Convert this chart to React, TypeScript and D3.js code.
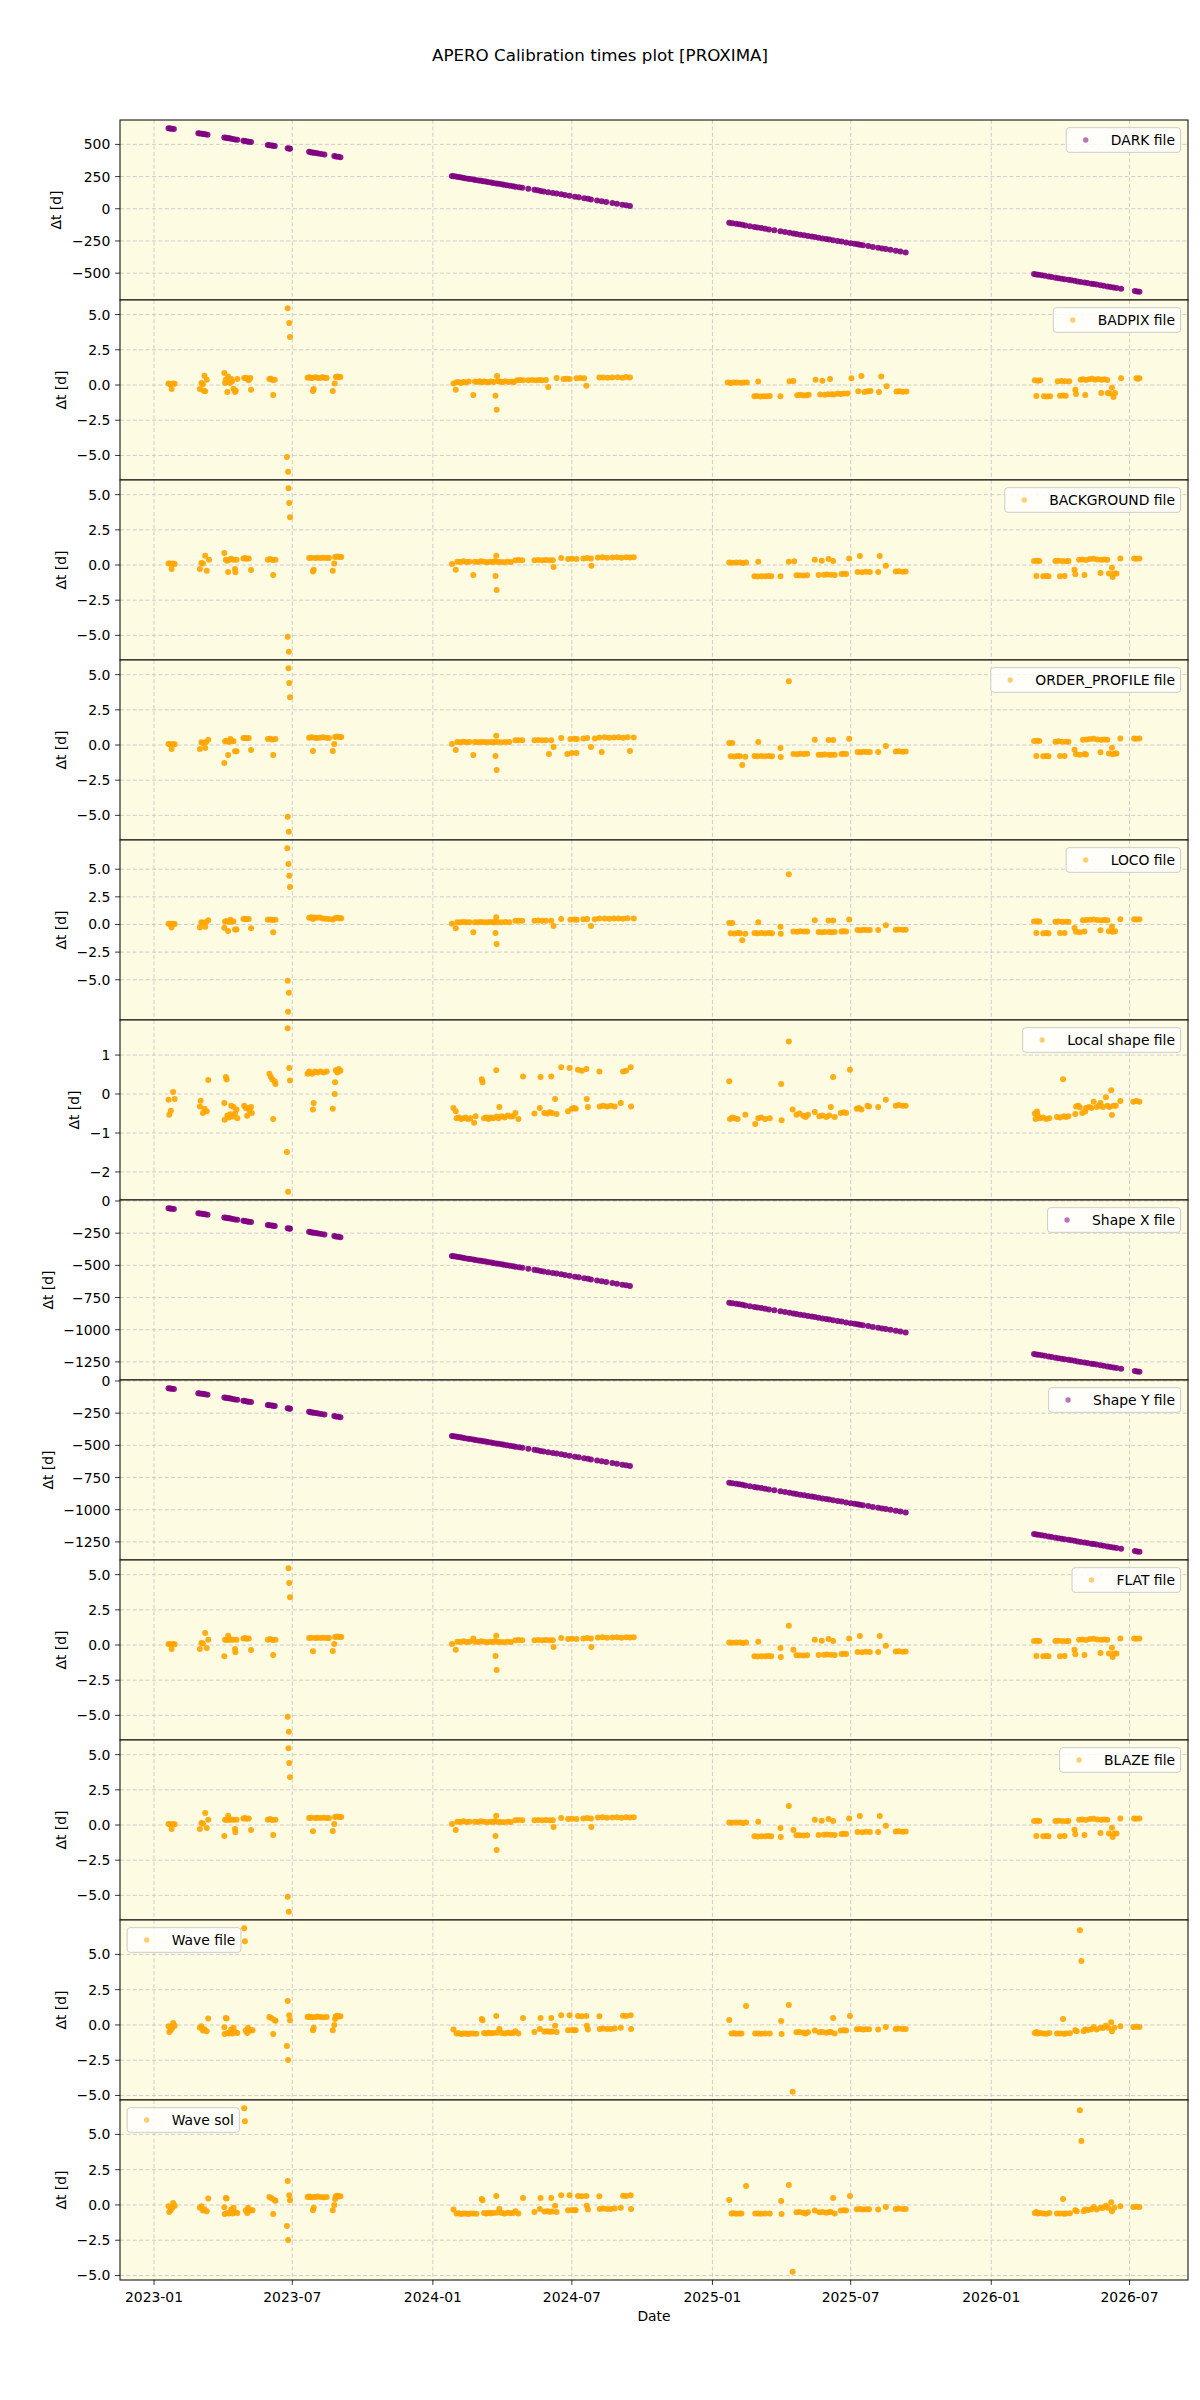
import React, { useEffect, useRef } from "react";
import * as d3 from "d3";

type Pt = [number, number]; // [days since 2023-01-01, delta t in days]

const EPOCH_MS = Date.UTC(2023, 0, 1);

const xTickDates = ["2023-01-01", "2023-07-01", "2024-01-01", "2024-07-01", "2025-01-01", "2025-07-01", "2026-01-01", "2026-07-01"];
const xTickLabels = ["2023-01", "2023-07", "2024-01", "2024-07", "2025-01", "2025-07", "2026-01", "2026-07"];

const darkTicks = [-500, -250, 0, 250, 500];
const fileTicks = [-5, -2.5, 0, 2.5, 5];
const locoTicks = [-5, -2.5, 0, 2.5, 5];
const localTicks = [-2, -1, 0, 1];
const shapeTicks = [-1250, -1000, -750, -500, -250, 0];
const waveTicks = [-5, -2.5, 0, 2.5, 5];

const darkPts: Pt[] = [
  [19,626],[21,624],[23,622],[26,619],[58,587],[60,585],[63,582],[65,580],[67,578],[70,575],[92,553],[94,551],[96,549],[98,547],[100,545],[103,542],[106,539],[109,536],[117,528],[119,526],[122,523],[124,521],[127,518],[149,496],[151,494],[154,491],[156,489],[158,487],[175,470],[177,468],[178,467],[203,442],[205,440],[207,438],[209,436],[212,433],[215,430],[219,426],[223,422],[236,409],[238,407],[241,404],[244,401],
  [390,255],[392,253],[395,250],[398,247],[401,244],[404,241],[407,238],[411,234],[414,231],[418,227],[421,224],[425,220],[428,217],[431,214],[434,211],[437,208],[441,204],[444,201],[448,197],[451,194],[455,190],[458,187],[462,183],[466,179],[470,175],[473,172],[478,167],[482,163],[490,155],[498,147],[502,143],[506,139],[510,135],[516,129],[522,123],[527,118],[533,112],[538,107],[544,101],[551,94],[556,89],[563,82],[568,77],[572,73],[580,65],[586,59],[592,53],[600,45],[606,39],[613,32],[618,27],[623,22],
  [753,-108],[757,-112],[762,-117],[766,-121],[770,-125],[774,-129],[780,-135],[786,-141],[790,-145],[795,-150],[800,-155],[805,-160],[812,-167],[820,-175],[826,-181],[832,-187],[837,-192],[841,-196],[846,-201],[851,-206],[856,-211],[861,-216],[865,-220],[870,-225],[875,-230],[880,-235],[884,-239],[889,-244],[895,-250],[900,-255],[906,-261],[912,-267],[917,-272],[921,-276],[924,-279],[928,-283],[935,-290],[941,-296],[948,-303],[953,-308],[958,-313],[964,-319],[971,-326],[977,-332],[984,-339],
  [1152,-507],[1155,-510],[1158,-513],[1162,-517],[1166,-521],[1171,-526],[1175,-530],[1180,-535],[1184,-539],[1188,-543],[1192,-547],[1197,-552],[1201,-556],[1205,-560],[1209,-564],[1213,-568],[1218,-573],[1222,-577],[1227,-582],[1230,-585],[1234,-589],[1239,-594],[1243,-598],[1248,-603],[1252,-607],[1256,-611],[1260,-615],[1266,-621],[1284,-639],[1287,-642],[1290,-645]
];

const badpixPts: Pt[] = [
  [19,0.1],[21,0.05],[23,-0.28],[25,0.1],[27,0.08],[60,-0.28],[62,0.14],[64,0.05],[66,0.66],[65,-0.4],[67,-0.45],[69,0.38],
  [92,0.85],[93,0.15],[94,0.38],[96,-0.5],[97,0.6],[99,0.14],[101,0.42],[102,0.25],[104,-0.26],[106,-0.5],[107,-0.4],[109,0.42],[118,0.5],[120,0.52],[122,0.45],[124,0.33],[126,0.5],[127,-0.33],
  [151,0.42],[153,0.45],[155,0.35],[156,-0.71],[158,0.38],[174,-5.1],[175,5.45],[175.5,-6.16],[177,4.39],[178,3.4],
  [201,0.52],[203,0.55],[205,0.52],[207,0.5],[208,-0.42],[209,-0.28],[211,0.55],[214,0.52],[217,0.5],[220,0.55],[223,0.52],[226,0.5],[234,-0.42],[236.5,0.1],[238,0.57],[240,0.6],[242,0.55],[244,0.57],
  [392,0.1],[395,-0.33],[396,0.19],[399,0.2],[402,0.15],[405,0.22],[408,0.18],[412,0.25],[418,-0.71],[420,0.24],[423,0.22],[426,0.26],[429,0.2],[432,0.24],[435,0.22],[438,0.2],[441,0.25],[445,0.22],[447,-0.76],[448.6,-1.75],[449,0.64],[450,0.28],[453,0.24],[456,0.2],[460,0.26],[464,0.22],[468,0.24],[471,0.2],[475,0.33],[479,0.36],[483,0.33],[490,0.33],[495,0.36],[500,0.33],[504,0.36],[508,0.33],[513,0.35],[516,-0.14],[527,0.5],[536,0.42],[540,0.45],[544,0.42],[553,0.47],[558,0.5],[563,0.47],[566,-0.05],[583,0.54],[588,0.54],[594,0.52],[600,0.54],[607,0.55],[613,0.52],[618,0.56],[623,0.54],
  [751,0.17],[755,0.15],[759,0.18],[763,0.17],[768,0.16],[772,0.18],[776,0.17],[786,-0.8],[789,-0.78],[791,0.24],[794,-0.82],[798,-0.8],[802,-0.8],[806,-0.78],[820,-0.8],[832,0.26],[837,0.28],[842,-0.73],[846,-0.7],[850,-0.75],[854,-0.72],[857,-0.7],[866,0.38],[872,-0.68],[875,0.31],[878,-0.7],[882,-0.66],[885,0.42],[887,-0.65],[890,-0.68],[895,-0.61],[899,-0.63],[903,-0.6],[908,-0.61],[913,0.47],[922,-0.45],[926,0.64],[930,-0.5],[934,-0.45],[938,-0.42],[949,-0.5],[952,0.61],[959,-0.09],[972,-0.47],[976,-0.45],[980,-0.48],[985,-0.47],
  [1153,0.33],[1155,-0.78],[1157,0.3],[1160,0.33],[1165,-0.8],[1169,-0.82],[1173,-0.8],[1183,0.26],[1186,-0.76],[1188,0.28],[1190,-0.75],[1193,0.26],[1193.5,-0.76],[1198,0.27],[1206,-0.33],[1207,-0.64],[1213,0.38],[1216,0.4],[1219,-0.71],[1220,0.36],[1224,0.4],[1228,0.45],[1232,0.38],[1236,0.42],[1240,-0.57],[1240.5,0.38],[1244,0.4],[1248,0.36],[1248.5,-0.57],[1251,-0.6],[1254,-0.19],[1256,-0.85],[1258,-0.57],[1266,0.47],[1286,0.47],[1288,0.45],[1290,0.47]
];

const backgroundPts: Pt[] = [
  [19,0.1],[21,0.1],[23,-0.28],[25,0.1],[27,0.08],[60,-0.28],[62,0.14],[64,0.1],[67,0.66],[69,-0.4],[72,0.38],[92,0.85],[94,0.38],[96,0.3],[97,-0.5],[99,0.4],[101,0.45],[104,0.38],[106,-0.28],[106.5,-0.52],[108,0.38],[117,0.47],[119,0.5],[121,0.45],[124,0.47],[127,-0.35],[149,0.38],[152,0.42],[155,0.36],[156,-0.71],[159,0.38],[175,-5.1],[176,5.46],[176.5,-6.17],[177,4.4],[178,3.4],[203,0.5],[206,0.52],[208,-0.47],[209,-0.33],[211,0.5],[214,0.52],[218,0.5],[222,0.52],[226,0.5],[229,0.5],[234,-0.4],[236,0.1],[237,0.57],[240,0.6],[243,0.57],[245,0.57],
  [390,0.07],[395,-0.33],[397,0.24],[401,0.22],[405,0.26],[409,0.22],[413,0.24],[418,-0.71],[420,0.24],[424,0.22],[428,0.26],[432,0.24],[436,0.2],[440,0.24],[444,0.22],[446,0.26],[447,-0.78],[448,0.66],[448.5,-1.77],[450,0.21],[454,0.22],[458,0.2],[463,0.24],[467,0.21],[473,0.33],[477,0.35],[482,0.33],[498,0.33],[503,0.35],[508,0.33],[513,0.36],[518,0.33],[522,0.33],[523,-0.14],[533,0.5],[542,0.43],[547,0.45],[553,0.43],[562,0.47],[567,0.5],[572,0.47],[572.5,-0.05],[581,0.54],[587,0.55],[593,0.52],[600,0.54],[606,0.55],[612,0.52],[618,0.56],[623,0.54],[628,0.55],
  [753,0.17],[757,0.16],[762,0.18],[767,0.17],[771,0.15],[775,0.17],[786,-0.8],[790,-0.82],[791,0.24],[795,-0.8],[800,-0.8],[804,-0.78],[808,-0.8],[820,-0.8],[831,0.24],[838,0.26],[841,-0.73],[845,-0.72],[850,-0.75],[855,-0.73],[865,0.38],[870,-0.71],[874,0.31],[877,-0.7],[881,-0.68],[883,0.43],[886,-0.7],[889,0.28],[891,-0.71],[900,-0.64],[903,-0.62],[906,-0.64],[910,0.47],[921,-0.5],[924,0.64],[927,-0.52],[932,-0.48],[937,-0.5],[948,-0.5],[950,0.64],[958,-0.05],[971,-0.47],[975,-0.45],[980,-0.48],[984,-0.47],
  [1152,0.28],[1155,-0.78],[1156,0.3],[1159,0.28],[1164,-0.8],[1168,-0.78],[1171,-0.8],[1180,0.28],[1184,0.3],[1186,-0.8],[1189,0.28],[1192,-0.78],[1194,0.26],[1197,0.28],[1205,-0.33],[1206,-0.66],[1211,0.38],[1215,0.4],[1218,-0.71],[1220,0.36],[1225,0.42],[1230,0.45],[1235,0.4],[1239,-0.57],[1240,0.38],[1244,0.4],[1248,0.38],[1250,-0.61],[1254,-0.19],[1255,-0.85],[1257,-0.61],[1260,-0.6],[1265,0.47],[1283,0.47],[1286,0.45],[1290,0.47]
];

const orderProfilePts: Pt[] = [
  [19,0.07],[21,0.05],[23,-0.28],[25,0.07],[27,0.05],[60,-0.28],[62,0.19],[64,0.15],[67,-0.21],[68,0.2],[71,0.38],[92,-1.28],[93,0.26],[95,0.3],[97,-0.71],[98,0.22],[100,0.43],[102,0.28],[104,0.26],[106,-0.45],[108,-0.45],[117,0.5],[119,0.5],[121,0.48],[124,0.5],[127,-0.35],[149,0.43],[152,0.45],[155,0.4],[156,-0.71],[159,0.43],[175,-5.1],[176,5.46],[176.5,-6.17],[177,4.4],[178,3.4],[203,0.52],[206,0.55],[208,-0.43],[210,0.52],[213,0.5],[217,0.52],[221,0.55],[225,0.52],[229,0.5],[234,-0.43],[236,0.07],[237,0.57],[240,0.6],[243,0.57],[245,0.57],
  [390,0.07],[395,-0.35],[397,0.21],[401,0.2],[405,0.23],[409,0.2],[413,0.21],[418,-0.71],[420,0.21],[424,0.2],[428,0.22],[432,0.21],[436,0.2],[440,0.22],[444,0.2],[446,0.21],[447,-0.78],[448,0.66],[448.5,-1.77],[450,0.21],[455,0.2],[460,0.22],[465,0.21],[473,0.33],[477,0.33],[482,0.33],[498,0.33],[503,0.35],[508,0.33],[513,0.33],[517,-0.64],[520,0.33],[523,-0.14],[533,0.5],[541,-0.64],[545,0.43],[547,-0.57],[550,0.45],[553,-0.57],[553.5,0.43],[562,0.47],[567,0.5],[572,-0.14],[577,0.47],[583,0.54],[586,-0.5],[590,0.55],[596,0.52],[602,0.54],[608,0.55],[614,0.52],[620,0.56],[623,-0.43],[628,0.54],
  [753,0.14],[755,-0.8],[757,0.14],[760,-0.82],[764,-0.78],[767,-0.8],[770,-1.42],[774,-0.83],[786,-0.78],[790,-0.8],[791,0.21],[795,-0.78],[800,-0.8],[805,-0.78],[809,-0.8],[820,-0.21],[820.5,-0.85],[831,4.54],[837,-0.64],[842,-0.66],[846,-0.62],[851,-0.64],[855,-0.63],[865,0.38],[870,-0.69],[874,-0.7],[878,-0.68],[883,0.35],[883.5,-0.69],[887,-0.7],[889,0.36],[891,-0.69],[900,-0.64],[903,-0.62],[906,-0.64],[910,0.45],[921,-0.5],[925,-0.52],[929,-0.48],[933,-0.5],[937,-0.5],[948,-0.5],[958,-0.07],[971,-0.47],[975,-0.45],[980,-0.48],[984,-0.47],
  [1152,0.28],[1155,-0.78],[1156,0.3],[1159,0.28],[1164,-0.8],[1168,-0.78],[1171,-0.8],[1180,0.24],[1184,0.26],[1186,-0.78],[1189,0.24],[1192,-0.78],[1194,0.24],[1197,0.24],[1205,-0.33],[1207,-0.66],[1212,-0.7],[1216,0.38],[1218,-0.64],[1220,-0.68],[1220.5,0.4],[1225,0.42],[1230,0.45],[1235,0.4],[1239,-0.52],[1240,0.38],[1244,0.4],[1248,0.38],[1250,-0.61],[1254,-0.19],[1255,-0.66],[1258,-0.61],[1260,-0.6],[1265,0.47],[1283,0.47],[1286,0.45],[1290,0.47]
];

const locoPts: Pt[] = [
  [19,0.07],[21,0.05],[23,-0.28],[25,0.07],[27,0.05],[60,-0.28],[62,0.19],[64,0.15],[67,-0.21],[68,0.2],[71,0.38],[92,-0.3],[93,0.26],[95,0.3],[97,-0.6],[98,0.22],[100,0.43],[102,0.28],[104,0.26],[106,-0.45],[108,-0.45],[117,0.5],[119,0.5],[121,0.48],[124,0.5],[127,-0.35],[149,0.43],[152,0.45],[155,0.4],[156,-0.71],[159,0.43],[174.5,6.9],[175,-5.1],[176,5.46],[176.5,-6.17],[175.5,-7.9],[177,4.4],[178,3.4],[203,0.6],[206,0.65],[208,0.5],[210,0.62],[213,0.6],[217,0.62],[221,0.55],[225,0.52],[229,0.5],[234,0.45],[237,0.57],[240,0.6],[243,0.57],[245,0.57],
  [390,0.07],[395,-0.35],[397,0.21],[401,0.2],[405,0.23],[409,0.2],[413,0.21],[418,-0.71],[420,0.21],[424,0.2],[428,0.22],[432,0.21],[436,0.2],[440,0.22],[444,0.2],[446,0.21],[447,-0.78],[448,0.66],[448.5,-1.77],[450,0.21],[455,0.2],[460,0.22],[465,0.21],[473,0.33],[477,0.33],[482,0.33],[498,0.33],[503,0.35],[508,0.33],[513,0.33],[520,0.33],[523,-0.14],[533,0.5],[545,0.43],[550,0.45],[553.5,0.43],[562,0.47],[567,0.5],[572,-0.14],[577,0.47],[583,0.54],[590,0.55],[596,0.52],[602,0.54],[608,0.55],[614,0.52],[620,0.56],[628,0.54],
  [753,0.14],[755,-0.8],[757,0.14],[760,-0.82],[764,-0.78],[767,-0.8],[770,-1.42],[774,-0.83],[786,-0.78],[790,-0.8],[791,0.21],[795,-0.78],[800,-0.8],[805,-0.78],[809,-0.8],[820,-0.21],[820.5,-0.85],[831,4.54],[837,-0.64],[842,-0.66],[846,-0.62],[851,-0.64],[855,-0.63],[865,0.38],[870,-0.69],[874,-0.7],[878,-0.68],[883,0.35],[883.5,-0.69],[887,-0.7],[889,0.36],[891,-0.69],[900,-0.64],[903,-0.62],[906,-0.64],[910,0.45],[921,-0.5],[925,-0.52],[929,-0.48],[933,-0.5],[937,-0.5],[948,-0.5],[958,-0.07],[971,-0.47],[975,-0.45],[980,-0.48],[984,-0.47],
  [1152,0.28],[1155,-0.78],[1156,0.3],[1159,0.28],[1164,-0.8],[1168,-0.78],[1171,-0.8],[1180,0.24],[1184,0.26],[1186,-0.78],[1189,0.24],[1192,-0.78],[1194,0.24],[1197,0.24],[1205,-0.33],[1207,-0.66],[1212,-0.7],[1216,0.38],[1218,-0.64],[1220.5,0.4],[1225,0.42],[1230,0.45],[1235,0.4],[1239,-0.52],[1240,0.38],[1244,0.4],[1248,0.38],[1250,-0.61],[1254,-0.19],[1255,-0.66],[1258,-0.61],[1265,0.47],[1283,0.47],[1286,0.45],[1290,0.47]
];

const localShapePts: Pt[] = [
  [19,-0.15],[20,-0.53],[22,-0.43],[25,0.05],[27,-0.13],[60,-0.32],[61,-0.17],[64,-0.49],[66,-0.38],[69,-0.44],[71,0.36],[92,-0.23],[92.5,-0.66],[94,0.44],[95,0.37],[96,-0.55],[98,-0.6],[100,-0.52],[101,-0.3],[103,-0.58],[104,-0.33],[106,-0.5],[108,-0.4],[109,-0.62],[118,-0.3],[120,-0.36],[122,-0.56],[123,-0.36],[125,-0.42],[127,-0.33],[128,-0.49],[151,0.52],[153,0.44],[155,0.37],[156,-0.64],[158,0.32],[159,0.26],[174,-1.49],[175,1.69],[175.5,-2.51],[177,0.67],[178,0.35],[201,0.52],[203,0.58],[205,0.55],[207,0.52],[208,-0.4],[209,-0.23],[211,0.58],[214,0.55],[218,0.58],[222,0.55],[226,0.58],[234,-0.38],[236.5,0],[237,0.3],[238,0.61],[240,0.55],[242,0.64],[244,0.6],
  [392,-0.36],[395,-0.44],[396,-0.62],[399,-0.6],[402,-0.64],[405,-0.62],[408,-0.6],[411,-0.64],[414,-0.62],[419,-0.74],[421,-0.57],[429,0.38],[430,0.3],[432,-0.62],[435,-0.6],[438,-0.64],[441,-0.6],[444,-0.62],[448,0.61],[448.5,-0.58],[451,-0.62],[452,-0.33],[455,-0.57],[459,-0.6],[463,-0.55],[467,-0.58],[470,-0.57],[473,-0.49],[477,-0.64],[483,0.45],[498,-0.5],[505,-0.36],[506,0.44],[511,-0.49],[515,-0.5],[518,-0.47],[520,0.45],[521,-0.49],[525,-0.13],[527,-0.51],[533,0.69],[542,-0.44],[544,0.67],[547,-0.38],[550,-0.36],[552,-0.38],[555,0.62],[560,0.6],[566,0.64],[566.5,-0.13],[568,-0.33],[583,0.58],[583.5,-0.32],[588,-0.3],[593,-0.32],[598,-0.3],[603,-0.32],[611,-0.23],[614,0.58],[618,0.6],[624,0.69],[624.5,-0.32],
  [753,0.33],[754,-0.64],[757,-0.6],[760,-0.62],[764,-0.64],[774,-0.53],[787,-0.77],[791,-0.62],[795,-0.6],[800,-0.64],[806,-0.62],[821,0.26],[821.5,-0.67],[831,1.35],[836,-0.4],[841,-0.53],[845,-0.5],[850,-0.56],[853,-0.59],[856,-0.53],[865,-0.46],[871,-0.57],[875,-0.55],[880,-0.59],[884,-0.55],[886,-0.33],[889,0.44],[891,-0.59],[899,-0.49],[903,-0.47],[906,-0.49],[911,0.62],[920,-0.38],[923,-0.36],[926,-0.4],[934,-0.3],[936,-0.32],[948,-0.33],[958,-0.15],[971,-0.3],[975,-0.28],[980,-0.3],[984,-0.3],
  [1153,-0.5],[1154,-0.64],[1156,-0.45],[1157,-0.55],[1160,-0.62],[1164,-0.6],[1168,-0.64],[1172,-0.62],[1182,-0.59],[1186,-0.6],[1190,0.38],[1191,-0.57],[1194,-0.59],[1197,-0.57],[1206,-0.51],[1207,-0.32],[1210,-0.3],[1212,-0.34],[1215,-0.49],[1219,-0.45],[1220,-0.36],[1224,-0.33],[1227,-0.36],[1230,-0.2],[1234,-0.33],[1237,-0.3],[1239,-0.23],[1242,-0.33],[1246,-0.08],[1248,-0.3],[1251,-0.33],[1253,0.1],[1254,-0.54],[1256,-0.3],[1259,-0.3],[1265,-0.18],[1282,-0.2],[1286,-0.18],[1290,-0.2]
];

const shapeXPts: Pt[] = [
  [19,-56],[21,-58],[23,-60],[26,-63],[58,-95],[60,-97],[63,-100],[65,-102],[67,-104],[70,-107],[92,-129],[94,-131],[96,-133],[98,-135],[100,-137],[103,-140],[106,-143],[109,-146],[117,-154],[119,-156],[122,-159],[124,-161],[127,-164],[149,-186],[151,-188],[154,-191],[156,-193],[158,-195],[175,-212],[177,-214],[178,-215],[203,-240],[205,-242],[207,-244],[209,-246],[212,-249],[215,-252],[219,-256],[223,-260],[236,-273],[238,-275],[241,-278],[244,-281],
  [390,-427],[392,-429],[395,-432],[398,-435],[401,-438],[404,-441],[407,-444],[411,-448],[414,-451],[418,-455],[421,-458],[425,-462],[428,-465],[431,-468],[434,-471],[437,-474],[441,-478],[444,-481],[448,-485],[451,-488],[455,-492],[458,-495],[462,-499],[466,-503],[470,-507],[473,-510],[478,-515],[482,-519],[490,-527],[498,-535],[502,-539],[506,-543],[510,-547],[516,-553],[522,-559],[527,-564],[533,-570],[538,-575],[544,-581],[551,-588],[556,-593],[563,-600],[568,-605],[572,-609],[580,-617],[586,-623],[592,-629],[600,-637],[606,-643],[613,-650],[618,-655],[623,-660],
  [753,-790],[757,-794],[762,-799],[766,-803],[770,-807],[774,-811],[780,-817],[786,-823],[790,-827],[795,-832],[800,-837],[805,-842],[812,-849],[820,-857],[826,-863],[832,-869],[837,-874],[841,-878],[846,-883],[851,-888],[856,-893],[861,-898],[865,-902],[870,-907],[875,-912],[880,-917],[884,-921],[889,-926],[895,-932],[900,-937],[906,-943],[912,-949],[917,-954],[921,-958],[924,-961],[928,-965],[935,-972],[941,-978],[948,-985],[953,-990],[958,-995],[964,-1001],[971,-1008],[977,-1014],[984,-1021],
  [1152,-1189],[1155,-1192],[1158,-1195],[1162,-1199],[1166,-1203],[1171,-1208],[1175,-1212],[1180,-1217],[1184,-1221],[1188,-1225],[1192,-1229],[1197,-1234],[1201,-1238],[1205,-1242],[1209,-1246],[1213,-1250],[1218,-1255],[1222,-1259],[1227,-1264],[1230,-1267],[1234,-1271],[1239,-1276],[1243,-1280],[1248,-1285],[1252,-1289],[1256,-1293],[1260,-1297],[1266,-1303],[1284,-1321],[1287,-1324],[1290,-1327]
];

// the Shape Y panel reads identically to Shape X
const shapeYPts: Pt[] = shapeXPts;

const flatPts: Pt[] = [
  [19,0.07],[21,0.05],[23,-0.28],[25,0.07],[27,0.05],[60,-0.28],[62,0.14],[64,0.1],[67,0.85],[69,-0.21],[71,0.38],[92,-0.8],[93,0.38],[95,0.35],[97,0.66],[99,0.38],[101,0.4],[104,0.38],[106,-0.28],[106.5,-0.52],[108,0.38],[117,0.47],[119,0.5],[121,0.45],[124,0.47],[127,-0.35],[149,0.38],[152,0.42],[155,0.36],[156,-0.71],[159,0.38],[175,-5.1],[176,5.46],[176.5,-6.17],[177,4.4],[178,3.4],[203,0.5],[206,0.52],[208,-0.45],[211,0.5],[214,0.52],[218,0.5],[222,0.52],[226,0.5],[229,0.5],[234,-0.43],[236,0.07],[237,0.57],[240,0.6],[243,0.57],[245,0.57],
  [390,0.07],[395,-0.33],[397,0.24],[401,0.22],[405,0.26],[409,0.22],[413,0.24],[418,0.47],[420,0.24],[424,0.22],[428,0.26],[432,0.24],[436,0.2],[440,0.24],[444,0.22],[446,0.26],[447,-0.78],[448,0.66],[448.5,-1.77],[450,0.21],[454,0.22],[458,0.2],[463,0.24],[467,0.21],[473,0.33],[477,0.35],[482,0.33],[498,0.33],[503,0.35],[508,0.33],[513,0.36],[518,0.33],[522,0.33],[523,-0.14],[533,0.5],[542,0.43],[547,0.45],[553,0.43],[562,0.47],[567,0.5],[572,0.47],[572.5,-0.14],[581,0.54],[587,0.55],[593,0.52],[600,0.54],[606,0.55],[612,0.52],[618,0.56],[623,0.54],[628,0.55],
  [753,0.17],[757,0.16],[762,0.18],[767,0.17],[771,0.15],[775,0.17],[786,-0.8],[790,-0.82],[791,0.24],[795,-0.8],[800,-0.8],[804,-0.78],[808,-0.8],[820,-0.21],[820.5,-0.85],[831,1.37],[837,-0.33],[841,-0.73],[845,-0.72],[850,-0.75],[855,-0.73],[865,0.38],[870,-0.71],[874,0.31],[877,-0.7],[881,-0.68],[883,0.43],[886,-0.7],[889,0.28],[891,-0.71],[900,-0.64],[903,-0.62],[906,-0.64],[910,0.47],[921,-0.5],[924,0.64],[927,-0.52],[932,-0.48],[937,-0.5],[948,-0.5],[950,0.64],[958,-0.05],[971,-0.47],[975,-0.45],[980,-0.48],[984,-0.47],
  [1152,0.28],[1155,-0.78],[1156,0.3],[1159,0.28],[1164,-0.8],[1168,-0.78],[1171,-0.8],[1180,0.28],[1184,0.3],[1186,-0.8],[1189,0.28],[1192,-0.78],[1194,0.26],[1197,0.28],[1205,-0.33],[1206,-0.66],[1211,0.38],[1215,0.4],[1218,-0.71],[1220,0.36],[1225,0.42],[1230,0.45],[1235,0.4],[1239,-0.57],[1240,0.38],[1244,0.4],[1248,0.38],[1250,-0.61],[1254,-0.19],[1255,-0.85],[1257,-0.61],[1260,-0.6],[1265,0.47],[1283,0.47],[1286,0.45],[1290,0.47]
];

const blazePts: Pt[] = [
  [19,0.07],[21,0.05],[23,-0.28],[25,0.07],[27,0.05],[60,-0.28],[62,0.14],[64,0.1],[67,0.85],[69,-0.21],[71,0.38],[92,-0.78],[93,0.38],[95,0.35],[97,0.66],[99,0.38],[101,0.4],[104,0.38],[106,-0.28],[106.5,-0.52],[108,0.38],[117,0.47],[119,0.5],[121,0.45],[124,0.47],[127,-0.35],[149,0.38],[152,0.42],[155,0.36],[156,-0.71],[159,0.38],[175,-5.1],[176,5.46],[176.5,-6.17],[177,4.4],[178,3.4],[203,0.5],[206,0.52],[208,-0.45],[211,0.5],[214,0.52],[218,0.5],[222,0.52],[226,0.5],[229,0.5],[234,-0.43],[236,0.07],[237,0.57],[240,0.6],[243,0.57],[245,0.57],
  [390,0.07],[395,-0.35],[397,0.24],[401,0.22],[405,0.26],[409,0.22],[413,0.24],[420,0.24],[424,0.22],[428,0.26],[432,0.24],[436,0.2],[440,0.24],[444,0.22],[446,0.26],[447,-0.78],[448,0.66],[448.5,-1.77],[450,0.21],[454,0.22],[458,0.2],[463,0.24],[467,0.21],[473,0.33],[477,0.35],[482,0.33],[498,0.33],[503,0.35],[508,0.33],[513,0.36],[518,0.33],[522,0.33],[523,-0.14],[533,0.5],[542,0.43],[547,0.45],[553,0.43],[562,0.47],[567,0.5],[572,0.47],[572.5,-0.14],[581,0.54],[587,0.55],[593,0.52],[600,0.54],[606,0.55],[612,0.52],[618,0.56],[623,0.54],[628,0.55],
  [753,0.17],[757,0.16],[762,0.18],[767,0.17],[771,0.15],[775,0.17],[786,-0.8],[790,-0.82],[791,0.24],[795,-0.8],[800,-0.8],[804,-0.78],[808,-0.8],[820,-0.21],[820.5,-0.85],[831,1.35],[837,-0.35],[841,-0.73],[845,-0.72],[850,-0.75],[855,-0.73],[865,0.38],[870,-0.71],[874,0.31],[877,-0.7],[881,-0.68],[883,0.43],[886,-0.7],[889,0.28],[891,-0.71],[900,-0.64],[903,-0.62],[906,-0.64],[910,0.47],[921,-0.5],[924,0.64],[927,-0.52],[932,-0.48],[937,-0.5],[948,-0.5],[950,0.64],[958,-0.05],[971,-0.47],[975,-0.45],[980,-0.48],[984,-0.47],
  [1152,0.28],[1155,-0.78],[1156,0.3],[1159,0.28],[1164,-0.8],[1168,-0.78],[1171,-0.8],[1180,0.28],[1184,0.3],[1186,-0.8],[1189,0.28],[1192,-0.78],[1194,0.26],[1197,0.28],[1205,-0.33],[1206,-0.66],[1211,0.38],[1215,0.4],[1218,-0.71],[1220,0.36],[1225,0.42],[1230,0.45],[1235,0.4],[1239,-0.57],[1240,0.38],[1244,0.4],[1248,0.38],[1250,-0.61],[1254,-0.19],[1255,-0.85],[1257,-0.61],[1260,-0.6],[1265,0.47],[1283,0.47],[1286,0.45],[1290,0.47]
];

const waveFilePts: Pt[] = [
  [19,-0.1],[20,-0.5],[22,-0.35],[24,-0.2],[25,0.14],[27,-0.05],[60,-0.2],[62,-0.1],[64,-0.4],[66,-0.3],[69,-0.45],[71,0.45],[92,-0.17],[92.5,-0.64],[94,0.5],[95,0.45],[96,-0.57],[98,-0.6],[100,-0.55],[101,-0.33],[103,-0.6],[104,-0.2],[106,-0.5],[109,-0.57],[118,6.86],[119,5.94],[120,-0.4],[122,-0.57],[123,-0.2],[125,-0.4],[127,-0.38],[129,-0.38],[151,0.57],[154,0.47],[156,-0.64],[158,0.33],[159,0.3],[174,-1.49],[175,1.7],[175.5,-2.48],[177,0.68],[178,0.33],[201,0.57],[203,0.6],[205,0.57],[207,0.55],[208,-0.38],[209,-0.2],[211,0.57],[214,0.6],[218,0.57],[222,0.55],[226,0.57],[234,-0.38],[236,0],[237,0.42],[238,0.61],[240,0.65],[242,0.6],[244,0.62],
  [392,-0.33],[396,-0.61],[399,-0.58],[402,-0.64],[405,-0.61],[408,-0.6],[411,-0.64],[414,-0.61],[418,-0.6],[422,-0.62],[429,0.42],[430,0.33],[432,-0.57],[435,-0.6],[438,-0.55],[441,-0.58],[444,-0.57],[448,0.64],[448.5,-0.55],[452,-0.28],[455,-0.57],[459,-0.6],[463,-0.55],[467,-0.58],[470,-0.57],[473,-0.45],[477,-0.61],[483,0.5],[498,-0.5],[505,-0.28],[506,0.5],[511,-0.47],[515,-0.45],[518,-0.48],[520,0.5],[521,-0.47],[525,-0.05],[527,-0.5],[533,0.68],[542,-0.38],[544,0.68],[547,-0.36],[550,-0.38],[552,-0.38],[555,0.64],[560,0.62],[566,0.64],[566.5,-0.05],[568,-0.33],[583,0.61],[583.5,-0.28],[588,-0.26],[593,-0.28],[598,-0.28],[603,-0.26],[611,-0.2],[614,0.66],[618,0.64],[624,0.68],[624.5,-0.28],
  [753,0.35],[756,-0.61],[759,-0.58],[762,-0.62],[766,-0.6],[769,-0.61],[775,1.34],[787,-0.61],[791,-0.6],[795,-0.62],[800,-0.6],[806,-0.61],[821,0.28],[821.5,-0.64],[831,1.42],[836,-4.74],[841,-0.52],[845,-0.5],[850,-0.55],[853,-0.61],[856,-0.52],[865,-0.4],[871,-0.52],[875,-0.5],[880,-0.55],[884,-0.5],[886,-0.5],[889,0.5],[891,-0.61],[899,-0.4],[903,-0.38],[906,-0.4],[911,0.64],[920,-0.3],[924,-0.28],[928,-0.32],[932,-0.3],[936,-0.3],[948,-0.33],[958,-0.14],[971,-0.28],[975,-0.26],[980,-0.28],[984,-0.28],
  [1153,-0.57],[1155,-0.5],[1157,-0.6],[1160,-0.57],[1164,-0.6],[1168,-0.62],[1172,-0.57],[1182,-0.61],[1186,-0.6],[1190,0.42],[1191,-0.62],[1194,-0.6],[1199,-0.58],[1206,-0.38],[1208,-0.45],[1212,6.72],[1214,4.53],[1217,-0.45],[1219,-0.33],[1223,-0.35],[1227,-0.3],[1230,-0.14],[1234,-0.33],[1239,-0.2],[1242,-0.22],[1246,-0.05],[1249,-0.2],[1253,0.19],[1254,-0.45],[1257,-0.2],[1265,-0.1],[1282,-0.14],[1286,-0.12],[1290,-0.14]
];

// the Wave sol panel reads identically to Wave file
const waveSolPts: Pt[] = waveFilePts;

const PURPLE = "#800080";
const ORANGE = "#FFA500";

const panels = [
  { name: "DARK file", color: PURPLE, data: darkPts, ticks: darkTicks, dec: 0, legendLeft: false },
  { name: "BADPIX file", color: ORANGE, data: badpixPts, ticks: fileTicks, dec: 1, legendLeft: false },
  { name: "BACKGROUND file", color: ORANGE, data: backgroundPts, ticks: fileTicks, dec: 1, legendLeft: false },
  { name: "ORDER_PROFILE file", color: ORANGE, data: orderProfilePts, ticks: fileTicks, dec: 1, legendLeft: false },
  { name: "LOCO file", color: ORANGE, data: locoPts, ticks: locoTicks, dec: 1, legendLeft: false },
  { name: "Local shape file", color: ORANGE, data: localShapePts, ticks: localTicks, dec: 0, legendLeft: false },
  { name: "Shape X file", color: PURPLE, data: shapeXPts, ticks: shapeTicks, dec: 0, legendLeft: false },
  { name: "Shape Y file", color: PURPLE, data: shapeYPts, ticks: shapeTicks, dec: 0, legendLeft: false },
  { name: "FLAT file", color: ORANGE, data: flatPts, ticks: fileTicks, dec: 1, legendLeft: false },
  { name: "BLAZE file", color: ORANGE, data: blazePts, ticks: fileTicks, dec: 1, legendLeft: false },
  { name: "Wave file", color: ORANGE, data: waveFilePts, ticks: waveTicks, dec: 1, legendLeft: true },
  { name: "Wave sol", color: ORANGE, data: waveSolPts, ticks: waveTicks, dec: 1, legendLeft: true },
];

const FONT = "DejaVu Sans, Liberation Sans, sans-serif";
const W = 1200, H = 2400;
const L = 120, R = 1188, TOP = 120, BOTTOM = 2280;
const PH = (BOTTOM - TOP) / panels.length;
const TICK = 4.86;
const FS = 13.9;

const dayToDate = (d: number) => new Date(EPOCH_MS + d * 86400000);
const fmtNum = (v: number, dec: number) => {
  const s = Math.abs(v).toFixed(dec);
  return v < 0 ? "\u2212" + s : s;
};

export default function App() {
  const ref = useRef<SVGSVGElement>(null);

  useEffect(() => {
    document.body.style.margin = "0";
    const svg = d3.select(ref.current!);
    svg.selectAll("*").remove();

    svg.append("rect").attr("width", W).attr("height", H).attr("fill", "#ffffff");

    const allDays = panels.flatMap((p) => p.data.map((d) => d[0]));
    const dMin = d3.min(allDays)!, dMax = d3.max(allDays)!;
    const dPad = (dMax - dMin) * 0.05;
    const x = d3.scaleUtc().domain([dayToDate(dMin - dPad), dayToDate(dMax + dPad)]).range([L, R]);
    const xTicks = xTickDates.map((s) => new Date(s + "T00:00:00Z"));

    svg.append("text")
      .attr("x", W / 2).attr("y", 61)
      .attr("text-anchor", "middle")
      .attr("font-family", FONT).attr("font-size", 16.7)
      .attr("fill", "#000")
      .text("APERO Calibration times plot [PROXIMA]");

    panels.forEach((p, i) => {
      const top = TOP + i * PH;
      const bot = top + PH;
      const vals = p.data.map((d) => d[1]);
      const vMin = d3.min(vals)!, vMax = d3.max(vals)!;
      const vPad = (vMax - vMin) * 0.05;
      const y = d3.scaleLinear().domain([vMin - vPad, vMax + vPad]).range([bot, top]);

      const g = svg.append("g");
      g.append("rect").attr("x", L).attr("y", top).attr("width", R - L).attr("height", PH).attr("fill", "#FDFBE1");

      const clipId = `clip${i}`;
      g.append("clipPath").attr("id", clipId).append("rect").attr("x", L).attr("y", top).attr("width", R - L).attr("height", PH);

      // grid
      const grid = g.append("g").attr("stroke", "#c4c4c8").attr("stroke-width", 0.8).attr("stroke-dasharray", "4,2.4");
      xTicks.forEach((t) => {
        grid.append("line").attr("x1", x(t)).attr("x2", x(t)).attr("y1", top).attr("y2", bot);
      });
      p.ticks.forEach((t) => {
        grid.append("line").attr("x1", L).attr("x2", R).attr("y1", y(t)).attr("y2", y(t));
      });

      // points
      g.append("g").attr("clip-path", `url(#${clipId})`)
        .selectAll("circle").data(p.data).join("circle")
        .attr("cx", (d) => x(dayToDate(d[0])))
        .attr("cy", (d) => y(d[1]))
        .attr("r", 3.0)
        .attr("fill", p.color)
        .attr("fill-opacity", 0.9);

      // y ticks
      const yt = g.append("g");
      let minLeft = Infinity;
      p.ticks.forEach((t) => {
        const yy = y(t);
        yt.append("line").attr("x1", L - TICK).attr("x2", L).attr("y1", yy).attr("y2", yy).attr("stroke", "#000").attr("stroke-width", 0.8);
        const tx = yt.append("text")
          .attr("x", L - TICK - 4.86).attr("y", yy).attr("dy", "0.36em")
          .attr("text-anchor", "end")
          .attr("font-family", FONT).attr("font-size", FS).attr("fill", "#000")
          .text(fmtNum(t, p.dec));
        const w = (tx.node() as SVGTextElement).getComputedTextLength();
        minLeft = Math.min(minLeft, L - TICK - 4.86 - w);
      });

      // y label
      const cy = (top + bot) / 2;
      g.append("text")
        .attr("transform", `translate(${minLeft - 15.5},${cy}) rotate(-90)`)
        .attr("dy", "0.35em")
        .attr("text-anchor", "middle")
        .attr("font-family", FONT).attr("font-size", FS).attr("fill", "#000")
        .text("\u0394t [d]");

      // frame
      g.append("rect").attr("x", L).attr("y", top).attr("width", R - L).attr("height", PH)
        .attr("fill", "none").attr("stroke", "#000").attr("stroke-width", 1);

      // legend
      const lg = g.append("g");
      const txt = lg.append("text")
        .attr("font-family", FONT).attr("font-size", FS).attr("fill", "#000")
        .text(p.name);
      const tw = (txt.node() as SVGTextElement).getComputedTextLength();
      const pad = 5.56, handle = 27.8, hpad = 11.1;
      const bw = pad * 2 + handle + hpad + tw;
      const bh = 24.6;
      const bx = p.legendLeft ? L + 7.2 : R - 7.4 - bw;
      const by = top + 7.7;
      lg.insert("rect", "text")
        .attr("x", bx).attr("y", by).attr("width", bw).attr("height", bh)
        .attr("rx", 3).attr("ry", 3)
        .attr("fill", "#ffffff").attr("fill-opacity", 0.8)
        .attr("stroke", "#cccccc").attr("stroke-width", 1);
      lg.insert("circle", "text")
        .attr("cx", bx + pad + handle / 2).attr("cy", by + bh / 2)
        .attr("r", 2.7).attr("fill", p.color).attr("fill-opacity", 0.55);
      txt.attr("x", bx + pad + handle + hpad).attr("y", by + bh / 2).attr("dy", "0.36em");

      // bottom axis
      if (i === panels.length - 1) {
        xTicks.forEach((t, k) => {
          const xx = x(t);
          g.append("line").attr("x1", xx).attr("x2", xx).attr("y1", bot).attr("y2", bot + TICK).attr("stroke", "#000").attr("stroke-width", 0.8);
          g.append("text")
            .attr("x", xx).attr("y", 2301.5)
            .attr("text-anchor", "middle")
            .attr("font-family", FONT).attr("font-size", FS).attr("fill", "#000")
            .text(xTickLabels[k]);
        });
        g.append("text")
          .attr("x", (L + R) / 2).attr("y", 2321)
          .attr("text-anchor", "middle")
          .attr("font-family", FONT).attr("font-size", FS).attr("fill", "#000")
          .text("Date");
      }
    });
  }, []);

  return <svg ref={ref} width={W} height={H} style={{ display: "block" }} />;
}
